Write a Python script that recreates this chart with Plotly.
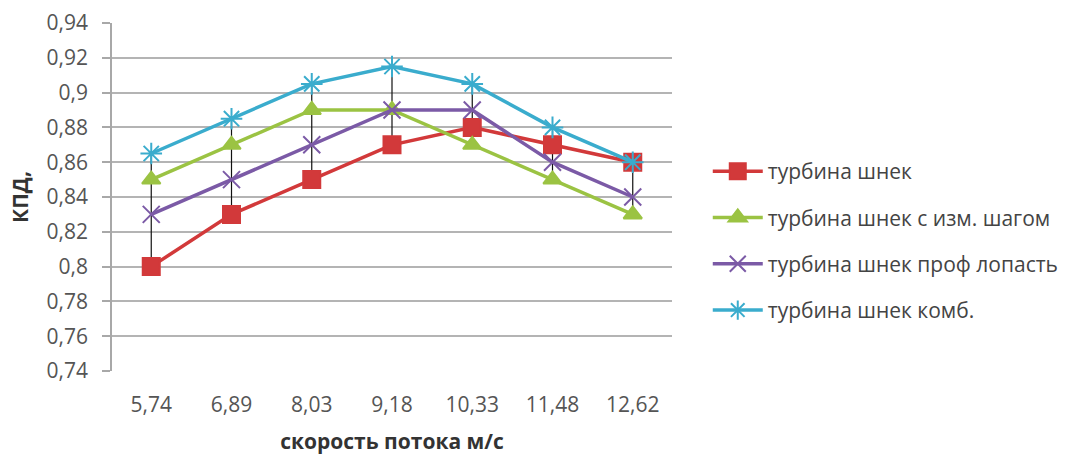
import plotly.graph_objects as go

# Flow speed categories (m/s) and efficiency series
speeds = ["5,74", "6,89", "8,03", "9,18", "10,33", "11,48", "12,62"]
turbine_screw = [0.80, 0.83, 0.85, 0.87, 0.88, 0.87, 0.86]
turbine_screw_pitch = [0.85, 0.87, 0.89, 0.89, 0.87, 0.85, 0.83]
turbine_screw_profile = [0.83, 0.85, 0.87, 0.89, 0.89, 0.86, 0.84]
turbine_screw_comb = [0.865, 0.885, 0.905, 0.915, 0.905, 0.88, 0.86]

series_names = [
    "турбина шнек",
    "турбина шнек с изм. шагом",
    "турбина шнек проф лопасть",
    "турбина шнек комб.",
]
y_ticks = [0.74, 0.76, 0.78, 0.80, 0.82, 0.84, 0.86, 0.88, 0.90, 0.92, 0.94]
y_tick_text = ["0,74", "0,76", "0,78", "0,8", "0,82", "0,84", "0,86",
               "0,88", "0,9", "0,92", "0,94"]

all_series = [turbine_screw, turbine_screw_pitch, turbine_screw_profile, turbine_screw_comb]
colors = ["#d2393a", "#9bc343", "#7b5aa6", "#3aaccd"]
symbols = ["square", "triangle-up", "x-thin-open", "asterisk-open"]
marker_sizes = [17, 16, 17, 18]

fig = go.Figure()

# High-low lines: from the lowest to the highest value at each speed
hl_x, hl_y = [], []
for i, s in enumerate(speeds):
    vals = [ser[i] for ser in all_series]
    hl_x += [s, s, None]
    hl_y += [min(vals), max(vals), None]
fig.add_trace(go.Scatter(x=hl_x, y=hl_y, mode="lines",
                         line=dict(color="#111111", width=1.2),
                         showlegend=False, hoverinfo="skip"))

for name, vals, col, sym, ms in zip(series_names, all_series, colors, symbols, marker_sizes):
    fig.add_trace(go.Scatter(
        x=speeds, y=vals, name=name, mode="lines+markers",
        legendgroup=name,
        line=dict(color=col, width=3.5),
        marker=dict(symbol=sym, size=ms, color=col,
                    line=dict(color=col, width=2)),
    ))

fig.update_layout(
    width=1074, height=455,
    margin=dict(l=112, r=402, t=23, b=84),
    paper_bgcolor="white", plot_bgcolor="white",
    font=dict(family="Open Sans, sans-serif", size=21, color="#555555"),
    legend=dict(xref="container", yref="container",
                x=0.659, y=0.668, xanchor="left", yanchor="top",
                font=dict(size=21, color="#444444"),
                tracegroupgap=16, itemwidth=50),
    showlegend=True,
)

fig.update_xaxes(
    type="category", categoryorder="array", categoryarray=speeds,
    showgrid=False, showline=False, zeroline=False, automargin=False,
    ticks="", tickfont=dict(size=21, color="#555555"), ticklabelstandoff=19,
    title=dict(text="<b>скорость потока м/с</b>", font=dict(size=21, color="#333333"),
               standoff=18),
)
fig.update_yaxes(
    range=[0.74, 0.94], tickvals=y_ticks, ticktext=y_tick_text,
    showgrid=True, gridcolor="#b4b4b4", gridwidth=1.6,
    showline=True, linecolor="#a8a8a8", linewidth=1.6, automargin=False,
    ticks="outside", ticklen=8, tickcolor="#a8a8a8", tickwidth=1.6,
    zeroline=False, tickfont=dict(size=21, color="#555555"), ticklabelstandoff=10,
    title=dict(text="<b>КПД,</b>", font=dict(size=21, color="#333333"), standoff=12),
)

fig.write_html("out.html")
